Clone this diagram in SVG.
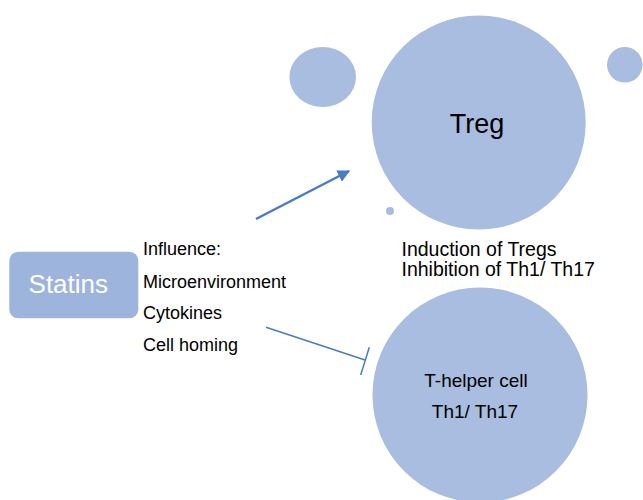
<svg xmlns="http://www.w3.org/2000/svg" width="643" height="500" viewBox="0 0 643 500">
<style>
.c{fill:#a9bde0}
.t{font-family:"Liberation Sans",Arial,sans-serif;fill:#000}
.ln{stroke:#4a7bc4;fill:none}
</style>
<defs>
<marker id="ah" viewBox="0 0 10 10" refX="9" refY="5" markerWidth="5" markerHeight="5" orient="auto" markerUnits="strokeWidth">
<path d="M0,0 L10,5 L0,10 Z" fill="#4a7bc4"/>
</marker>
</defs>
<rect width="643" height="500" fill="#fff"/>
<g id="bubbles">
<ellipse class="c" cx="322.7" cy="77" rx="33.3" ry="30"/>
<circle class="c" cx="624.8" cy="64.8" r="17.8"/>
<circle class="c" cx="390" cy="211" r="4"/>
</g>
<g id="treg">
<circle class="c" cx="478.7" cy="122.5" r="107"/>
<text class="t" x="477" y="133" font-size="27" text-anchor="middle">Treg</text>
</g>
<g id="thelper">
<circle class="c" cx="480" cy="395" r="107.5"/>
<text class="t" x="476" y="387" font-size="19" text-anchor="middle">T-helper cell</text>
<text class="t" x="475" y="418" font-size="19" text-anchor="middle">Th1/ Th17</text>
</g>
<g id="statins">
<rect x="9.3" y="251.7" width="129" height="66.6" rx="9" fill="#9db4dc"/>
<text x="68.3" y="293" font-size="26" text-anchor="middle" fill="#fff" font-family="Liberation Sans,Arial,sans-serif">Statins</text>
</g>
<g id="influence">
<text class="t" x="143" y="255" font-size="18">Influence:</text>
<text class="t" x="143" y="287.5" font-size="18">Microenvironment</text>
<text class="t" x="143" y="319" font-size="18">Cytokines</text>
<text class="t" x="143" y="351" font-size="18">Cell homing</text>
</g>
<g id="effects">
<text class="t" x="401.5" y="255.5" font-size="19.5">Induction of Tregs</text>
<text class="t" x="401.5" y="275.5" font-size="19.5">Inhibition of Th1/ Th17</text>
</g>
<g id="connectors">
<line class="ln" x1="256" y1="219" x2="349" y2="171" stroke-width="2.5" marker-end="url(#ah)"/>
<line class="ln" x1="266" y1="327.3" x2="365" y2="360" stroke-width="1.5"/>
<line class="ln" x1="369.3" y1="347.3" x2="360.7" y2="375" stroke-width="1.5"/>
</g>
</svg>
